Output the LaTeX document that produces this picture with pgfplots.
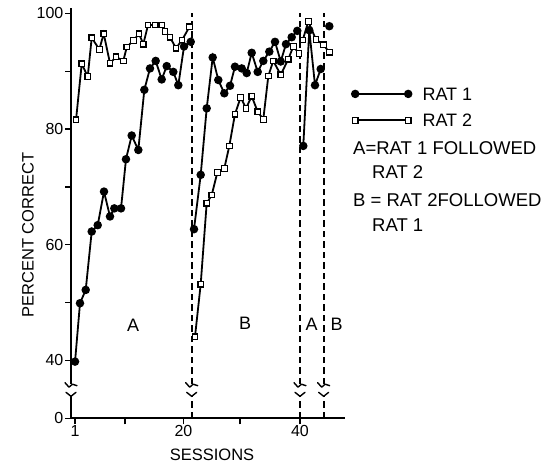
\documentclass[border=0pt]{standalone}
\usepackage{fontspec}
\setmainfont{Liberation Sans}
\usepackage{pgfplots}
\pgfplotsset{compat=1.18}

\pgfplotstableread{
x y
1.01 39.8
1.87 49.9
2.86 52.2
3.90 62.3
4.94 63.4
6.03 69.2
7.07 64.9
7.82 66.3
8.98 66.3
9.84 74.8
10.83 78.9
11.98 76.4
13.02 86.8
14.00 90.5
14.99 91.8
16.03 88.6
16.90 90.9
18.04 89.9
18.91 87.6
19.90 94.3
21.06 95.1
nan nan
21.63 62.7
22.79 72.1
23.83 83.6
24.87 92.4
25.84 88.5
26.88 86.2
27.87 87.5
28.73 90.8
29.90 90.5
30.76 89.7
31.63 93.2
32.67 89.9
33.64 91.8
34.68 93.4
35.67 95.1
36.66 91.7
37.57 94.7
38.56 95.9
39.53 97.0
nan nan
40.57 77.1
41.61 97.1
42.60 87.6
43.59 90.4
nan nan
45.08 97.8
}\ratone

\pgfplotstableread{
x y
1.18 81.6
2.17 91.3
3.21 89.1
3.90 95.8
5.22 93.8
5.98 96.5
7.07 91.4
8.11 92.5
9.38 91.8
9.97 94.2
11.11 95.3
12.10 96.5
12.84 94.7
13.66 98.0
14.87 98.0
16.03 98.0
16.60 96.9
17.47 95.9
18.51 94.0
19.55 95.4
20.85 97.7
nan nan
21.80 44.1
22.79 53.2
23.83 67.2
24.70 68.6
25.67 72.5
26.88 73.2
27.75 77.1
28.73 82.6
29.72 85.5
30.64 83.6
31.63 85.7
32.67 83.0
33.64 81.7
34.51 89.2
35.37 91.8
36.66 89.4
37.97 92.1
38.84 94.3
39.83 93.1
nan nan
40.47 95.4
41.44 98.6
42.77 95.5
44.04 94.6
45.08 93.3
}\rattwo

\newcommand\brk[2]{%
  \draw[line width=1.4pt,line cap=round,line join=round] ([shift={(-5pt,4pt)}]#1) -- (#1) -- ([shift={(5pt,4pt)}]#1);
  \draw[line width=1.4pt,line cap=round,line join=round] ([shift={(-6pt,1.5pt)}]#2) -- ([shift={(-2pt,-3pt)}]#2) -- ([shift={(1.5pt,0pt)}]#2) -- ([shift={(6pt,-1.5pt)}]#2);
}
\tikzset{phase/.style={line width=1.7pt, dash pattern=on 6.5pt off 4pt}}

\begin{document}
\begin{tikzpicture}
\useasboundingbox (0,0) rectangle (554pt,466pt);
\begin{axis}[
  at={(71pt,47.7pt)}, anchor=south west,
  scale only axis, width=274pt, height=410.3pt,
  xmin=0.31, xmax=47.8, ymin=30, ymax=100.95,
  axis lines*=left,
  x axis line style={line width=1.6pt,-},
  y axis line style={draw=none},
  xtick={1,9.67,19.8,29.6,40}, xticklabels={1,,20,,40},
  ytick={30,40,50,60,70,80,90,100}, yticklabels={0,40,,60,,80,,100},
  tick style={line width=1.3pt,black},
  major tick length=6pt,
  tick align=outside,
  /pgf/number format/assume math mode=true,
  ticklabel style={font=\fontsize{16}{16}\selectfont},
  xticklabel style={inner sep=1pt},
  yticklabel style={inner sep=1.5pt},
  clip=false,
  unbounded coords=jump,
  legend style={at={(1.0245,0.8063)}, anchor=north west, draw=none, fill=none,
    inner sep=0pt, row sep=14pt,
    nodes={inner sep=0pt, text height=12.5pt, text depth=0pt, font=\fontsize{18}{18}\selectfont}},
  legend cell align=left,
  legend image code/.code={%
    \draw[black, line width=2pt] (0pt,0pt) -- (53pt,0pt);
    \path[#1] plot[only marks] coordinates {(0pt,0pt) (53pt,0pt)};},
]
\addplot[black, line width=1.8pt, mark=*, mark size=3.3pt, mark options={solid, fill=black}] table {\ratone};
\addlegendentry{\hspace*{11pt}RAT 1}
\addplot[black, line width=1.8pt, mark=square*, mark size=2.8pt, mark options={solid, fill=white, line width=1.2pt}] table {\rattwo};
\addlegendentry{\hspace*{11pt}RAT 2}

% y axis line with break
\draw[line width=1.6pt] (axis cs:0.31,30) -- (axis cs:0.31,33.8);
\draw[line width=1.6pt] (axis cs:0.31,35.9) -- (axis cs:0.31,100.95);
\coordinate (ya) at (axis cs:0.31,33.8);
\coordinate (yb) at (axis cs:0.31,35.9);
% dashed phase lines with breaks
\draw[phase] (axis cs:21.23,30) -- (axis cs:21.23,33.8);
\draw[phase] (axis cs:21.23,35.9) -- (axis cs:21.23,100.1);
\coordinate (d1a) at (axis cs:21.23,33.8);
\coordinate (d1b) at (axis cs:21.23,35.9);
\draw[phase] (axis cs:40.0,30) -- (axis cs:40.0,33.8);
\draw[phase] (axis cs:40.0,35.9) -- (axis cs:40.0,100.1);
\coordinate (d2a) at (axis cs:40.0,33.8);
\coordinate (d2b) at (axis cs:40.0,35.9);
\draw[phase] (axis cs:44.1,30) -- (axis cs:44.1,33.8);
\draw[phase] (axis cs:44.1,35.9) -- (axis cs:44.1,100.1);
\coordinate (d3a) at (axis cs:44.1,33.8);
\coordinate (d3b) at (axis cs:44.1,35.9);
% phase labels
\node[font=\fontsize{18}{18}\selectfont] at (axis cs:11.06,46.1) {A};
\node[font=\fontsize{18}{18}\selectfont] at (axis cs:30.47,46.4) {B};
\node[font=\fontsize{18}{18}\selectfont] at (axis cs:42.03,46.3) {A};
\node[font=\fontsize{18}{18}\selectfont] at (axis cs:46.36,46.3) {B};
\end{axis}
\brk{ya}{yb}
\brk{d1a}{d1b}
\brk{d2a}{d2b}
\brk{d3a}{d3b}

\node[rotate=90, font=\fontsize{16.5}{16.5}\selectfont] at (28pt,231pt) {PERCENT CORRECT};
\node[font=\fontsize{16.5}{16.5}\selectfont] at (212pt,11pt) {SESSIONS};

\begin{scope}[every node/.style={anchor=west, inner sep=0pt, font=\fontsize{18.5}{18.5}\selectfont}]
\node at (353pt,318pt) {A=RAT 1 FOLLOWED};
\node at (372pt,294pt) {RAT 2};
\node at (353pt,266pt) {B = RAT 2FOLLOWED};
\node at (372pt,241pt) {RAT 1};
\end{scope}
\end{tikzpicture}
\end{document}
